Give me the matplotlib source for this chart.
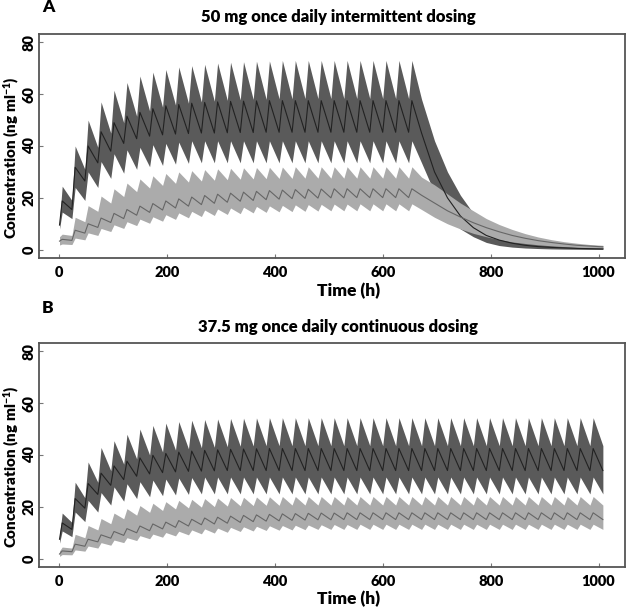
import matplotlib
matplotlib.use("Agg")
import matplotlib.pyplot as plt
import numpy as np

plt.rcParams.update({
    "font.family": ["Lato", "DejaVu Sans"],
    "font.weight": "heavy",
    "axes.labelweight": "heavy",
    "mathtext.fontset": "custom",
    "mathtext.rm": "Lato:heavy",
    "mathtext.bf": "Lato:heavy",
    "mathtext.default": "bf",
})

W, H = 626, 609

# ---------------------------------------------------------------------------
# Data (ng/ml). Dosing every 24 h.
# "pk" = peak of each dosing interval, "tr" = value just before next dose,
# "wo" = washout values every 24 h after the last trough (panel A only)
# ---------------------------------------------------------------------------

# Panel A: 50 mg intermittent (28 doses, then washout to 1008 h)
a_start = {"dk_hi": 11, "dk_md": 9.5, "dk_lo": 8, "lt_hi": 5, "lt_md": 3.3, "lt_lo": 1.8}

a_dk_hi_pk = [24.5, 40, 50, 57, 61.5, 64.5, 67, 68.5, 69.5, 70.5, 71, 71.5, 72, 72.3,
              72.5, 72.7, 72.8, 73, 73, 73, 73, 73, 73, 73, 73, 73, 73, 73]
a_dk_hi_tr = [19, 31, 39.5, 45, 49, 51.5, 53.5, 55, 55.8, 56.5, 57, 57.3, 57.6, 57.8,
              58, 58, 58.2, 58.2, 58.3, 58.3, 58.3, 58.3, 58.3, 58.3, 58.3, 58.3, 58.3, 58]
a_dk_hi_wo = [42, 30, 21, 14, 9.5, 6.5, 4.5, 3.2, 2.4, 1.9, 1.5, 1.2, 1.0, 0.9]

a_dk_md_pk = [18.8, 31.8, 40, 45.5, 49, 51.5, 53, 54.4, 55.5, 56, 56.5, 56.8, 57, 57.2,
              57.3, 57.4, 57.5, 57.5, 57.5, 57.5, 57.5, 57.5, 57.5, 57.5, 57.5, 57.5, 57.5, 57.5]
a_dk_md_tr = [15.5, 26.5, 33.5, 38, 41, 42.8, 43.8, 44.3, 44.6, 44.8, 45, 45, 45.1, 45.2,
              45.2, 45.3, 45.3, 45.3, 45.3, 45.3, 45.3, 45.3, 45.3, 45.3, 45.3, 45.3, 45.3, 45]
a_dk_md_wo = [30, 20, 13, 8.5, 5.5, 3.7, 2.5, 1.7, 1.2, 0.9, 0.7, 0.5, 0.4, 0.3]

a_dk_lo_pk = [14.5, 24, 30, 34, 37, 38.5, 39.5, 40.5, 41, 41.5, 42, 42, 42, 42,
              42, 42, 42, 42, 42, 42, 42, 42, 42, 42, 42, 42, 42, 42]
a_dk_lo_tr = [12, 19, 24, 27.5, 29.5, 31, 32, 32.5, 33, 33.3, 33.5, 33.5, 33.5, 33.5,
              33.5, 33.5, 33.5, 33.5, 33.5, 33.5, 33.5, 33.5, 33.5, 33.5, 33.5, 33.5, 33.5, 33.5]
a_dk_lo_wo = [22, 14, 8, 5, 2.8, 1.6, 1.0, 0.65, 0.45, 0.3, 0.22, 0.16, 0.12, 0.1]

a_lt_hi_pk = [6, 12.5, 17, 20.7, 23.5, 25.7, 27.3, 28.5, 29.4, 30, 30.5, 30.9, 31.2, 31.4,
              31.6, 31.7, 31.8, 31.9, 32, 32, 32, 32, 32, 32, 32, 32, 32, 32]
a_lt_hi_tr = [5.5, 10.8, 14.8, 18, 20.5, 22.4, 23.8, 24.8, 25.6, 26.1, 26.5, 26.8, 27, 27.2,
              27.3, 27.4, 27.5, 27.5, 27.6, 27.6, 27.6, 27.6, 27.6, 27.6, 27.6, 27.6, 27.6, 28]
a_lt_hi_wo = [25, 21.5, 18, 15, 12, 9.7, 7.8, 6.2, 4.9, 3.9, 3.1, 2.5, 2.0, 1.7]

a_lt_md_pk = [4, 7.5, 10, 12.2, 14, 15.5, 16.8, 17.8, 18.8, 19.6, 20.3, 20.9, 21.4, 21.8,
              22.2, 22.5, 22.8, 23, 23.2, 23.3, 23.4, 23.5, 23.5, 23.5, 23.5, 23.5, 23.5, 23.5]
a_lt_md_tr = [3.6, 6.4, 8.6, 10.5, 12, 13.3, 14.4, 15.3, 16.1, 16.8, 17.4, 17.9, 18.3, 18.7,
              19, 19.3, 19.5, 19.7, 19.8, 19.9, 20, 20, 20.1, 20.1, 20.1, 20.1, 20.1, 21]
a_lt_md_wo = [18, 15, 12.6, 10.4, 8.5, 6.9, 5.5, 4.4, 3.5, 2.8, 2.2, 1.7, 1.4, 1.1]

a_lt_lo_pk = [2.2, 4.5, 6.5, 8.2, 9.6, 10.8, 11.8, 12.7, 13.5, 14.2, 14.8, 15.3, 15.7, 16.1,
              16.4, 16.7, 16.9, 17.1, 17.3, 17.4, 17.5, 17.6, 17.6, 17.7, 17.7, 17.7, 17.7, 17.7]
a_lt_lo_tr = [2, 3.8, 5.5, 7, 8.2, 9.3, 10.2, 11, 11.7, 12.3, 12.8, 13.2, 13.6, 13.9,
              14.2, 14.4, 14.6, 14.7, 14.8, 14.9, 15, 15, 15, 15, 15, 15, 15, 15.5]
a_lt_lo_wo = [12.5, 10, 8, 6.3, 5, 3.9, 3, 2.4, 1.9, 1.5, 1.2, 0.9, 0.7, 0.55]

# Panel B: 37.5 mg continuous (42 doses)
b_start = {"dk_hi": 9, "dk_md": 7.5, "dk_lo": 6, "lt_hi": 3, "lt_md": 1.8, "lt_lo": 0.9}

b_dk_hi_pk = [17.6, 29.5, 37.3, 42.9, 45.5, 48, 50, 51.4, 52.3, 52.9, 53.4, 53.7, 53.9, 54.1,
              54.2, 54.3, 54.4, 54.4, 54.4, 54.4, 54.4, 54.4, 54.4, 54.4, 54.4, 54.4, 54.4, 54.4,
              54.4, 54.4, 54.4, 54.4, 54.4, 54.4, 54.4, 54.4, 54.4, 54.4, 54.4, 54.4, 54.4, 54.4]
b_dk_hi_tr = [14, 23.5, 29.5, 34, 36.5, 38.5, 40, 41.2, 41.9, 42.4, 42.8, 43, 43.2, 43.4,
              43.5, 43.6, 43.6, 43.6, 43.6, 43.6, 43.6, 43.6, 43.6, 43.6, 43.6, 43.6, 43.6, 43.6,
              43.6, 43.6, 43.6, 43.6, 43.6, 43.6, 43.6, 43.6, 43.6, 43.6, 43.6, 43.6, 43.6, 43.6]

b_dk_md_pk = [13.8, 23.2, 29, 33, 35.8, 37.6, 38.9, 39.9, 40.6, 41.1, 41.5, 41.8, 42, 42.2,
              42.3, 42.4, 42.5, 42.5, 42.5, 42.5, 42.5, 42.5, 42.5, 42.5, 42.5, 42.5, 42.5, 42.5,
              42.5, 42.5, 42.5, 42.5, 42.5, 42.5, 42.5, 42.5, 42.5, 42.5, 42.5, 42.5, 42.5, 42.5]
b_dk_md_tr = [11.3, 19.5, 24.8, 28.3, 30.5, 31.8, 32.7, 33.2, 33.5, 33.7, 33.8, 33.9, 34, 34,
              34, 34, 34, 34, 34, 34, 34, 34, 34, 34, 34, 34, 34, 34,
              34, 34, 34, 34, 34, 34, 34, 34, 34, 34, 34, 34, 34, 34]

b_dk_lo_pk = [10.7, 18, 22.5, 25.5, 27.7, 28.9, 29.7, 30.3, 30.7, 31.1, 31.3, 31.5, 31.5, 31.5,
              31.5, 31.5, 31.5, 31.5, 31.5, 31.5, 31.5, 31.5, 31.5, 31.5, 31.5, 31.5, 31.5, 31.5,
              31.5, 31.5, 31.5, 31.5, 31.5, 31.5, 31.5, 31.5, 31.5, 31.5, 31.5, 31.5, 31.5, 31.5]
b_dk_lo_tr = [8.5, 14.3, 18, 20.7, 22.2, 23.2, 23.9, 24.3, 24.6, 24.8, 25, 25, 25, 25,
              25, 25, 25, 25, 25, 25, 25, 25, 25, 25, 25, 25, 25, 25,
              25, 25, 25, 25, 25, 25, 25, 25, 25, 25, 25, 25, 25, 25]

b_lt_hi_pk = [4.5, 9.4, 12.8, 15.5, 17.6, 19.3, 20.5, 21.4, 22, 22.5, 22.9, 23.2, 23.4, 23.6,
              23.7, 23.8, 23.9, 24, 24, 24, 24, 24, 24, 24, 24, 24, 24, 24,
              24, 24, 24, 24, 24, 24, 24, 24, 24, 24, 24, 24, 24, 24]
b_lt_hi_tr = [4.1, 8.1, 11.1, 13.5, 15.4, 16.8, 17.9, 18.6, 19.2, 19.6, 19.9, 20.1, 20.3, 20.4,
              20.5, 20.6, 20.6, 20.7, 20.7, 20.7, 20.7, 20.7, 20.7, 20.7, 20.7, 20.7, 20.7, 20.7,
              20.7, 20.7, 20.7, 20.7, 20.7, 20.7, 20.7, 20.7, 20.7, 20.7, 20.7, 20.7, 20.7, 20.7]

b_lt_md_pk = [3, 5.6, 7.5, 9.2, 10.5, 11.6, 12.6, 13.4, 14.1, 14.7, 15.2, 15.7, 16, 16.4,
              16.7, 16.9, 17.1, 17.3, 17.4, 17.5, 17.6, 17.6, 17.7, 17.7, 17.7, 17.7, 17.7, 17.7,
              17.7, 17.7, 17.7, 17.7, 17.7, 17.7, 17.7, 17.7, 17.7, 17.7, 17.7, 17.7, 17.7, 17.7]
b_lt_md_tr = [2.7, 4.8, 6.5, 7.9, 9, 10, 10.8, 11.5, 12.1, 12.6, 13.1, 13.4, 13.7, 14,
              14.3, 14.5, 14.6, 14.8, 14.9, 15, 15, 15.1, 15.1, 15.1, 15.1, 15.1, 15.1, 15.1,
              15.1, 15.1, 15.1, 15.1, 15.1, 15.1, 15.1, 15.1, 15.1, 15.1, 15.1, 15.1, 15.1, 15.1]

b_lt_lo_pk = [1.6, 3.4, 4.9, 6.2, 7.2, 8.1, 8.9, 9.5, 10.1, 10.6, 11.1, 11.5, 11.8, 12.1,
              12.3, 12.5, 12.7, 12.8, 12.9, 13, 13.1, 13.2, 13.2, 13.3, 13.3, 13.3, 13.3, 13.3,
              13.3, 13.3, 13.3, 13.3, 13.3, 13.3, 13.3, 13.3, 13.3, 13.3, 13.3, 13.3, 13.3, 13.3]
b_lt_lo_tr = [1.5, 2.9, 4.1, 5.2, 6.2, 7, 7.7, 8.3, 8.8, 9.2, 9.6, 9.9, 10.2, 10.5,
              10.7, 10.9, 11, 11.1, 11.2, 11.3, 11.3, 11.3, 11.3, 11.3, 11.3, 11.3, 11.3, 11.3,
              11.3, 11.3, 11.3, 11.3, 11.3, 11.3, 11.3, 11.3, 11.3, 11.3, 11.3, 11.3, 11.3, 11.3]

TAU = 24        # dosing interval (h)
T_PEAK = 6      # time of peak after each dose (h)

DARK_BAND = "#5a5a5a"
DARK_LINE = "#222222"
LIGHT_BAND = "#ababab"
LIGHT_LINE = "#666666"
SPINE = "#555555"


def build(start, pk, tr, wo=()):
    """Interleave start, peaks, troughs and washout into a (t, c) profile."""
    n = len(pk)
    t = [1.0]
    c = [start]
    for i in range(n):
        t += [i * TAU + T_PEAK, (i + 1) * TAU]
        c += [pk[i], tr[i]]
    for j, v in enumerate(wo):
        t.append((n + 1 + j) * TAU)
        c.append(v)
    return np.array(t), np.array(c)


def draw_panel(ax, st, dk, lt):
    t, dk_hi = build(st["dk_hi"], *dk[0])
    _, dk_md = build(st["dk_md"], *dk[1])
    _, dk_lo = build(st["dk_lo"], *dk[2])
    _, lt_hi = build(st["lt_hi"], *lt[0])
    _, lt_md = build(st["lt_md"], *lt[1])
    _, lt_lo = build(st["lt_lo"], *lt[2])

    ax.fill_between(t, dk_lo, dk_hi, color=DARK_BAND, lw=0)
    ax.plot(t, dk_md, color=DARK_LINE, lw=0.8)
    ax.fill_between(t, lt_lo, lt_hi, color=LIGHT_BAND, lw=0)
    ax.plot(t, lt_md, color=LIGHT_LINE, lw=0.8)

    ax.set_xlim(-37, 1049)
    ax.set_ylim(-3.2, 83.2)
    ax.set_xticks([0, 200, 400, 600, 800, 1000])
    ax.set_yticks([0, 20, 40, 60, 80])
    ax.tick_params(direction="in", length=3, width=0.8, color="#777777",
                   labelsize=10.5, pad=2.5)
    ax.tick_params(axis="x", pad=6)
    for lab in ax.get_yticklabels():
        lab.set_rotation(90)
        lab.set_va("center")
    for s in ax.spines.values():
        s.set_color(SPINE)
        s.set_linewidth(1.3)
    ax.set_ylabel("Concentration (ng ml$^{-1}$)", fontsize=11, va="center",
                  fontweight="heavy")
    ax.yaxis.set_label_coords(-0.048, 0.45)


fig = plt.figure(figsize=(W / 100, H / 100), dpi=100)


def px_axes(left, top, right, bottom):
    return fig.add_axes([left / W, 1 - bottom / H, (right - left) / W, (bottom - top) / H])


axA = px_axes(39, 34, 625, 258)
draw_panel(axA, a_start,
           [(a_dk_hi_pk, a_dk_hi_tr, a_dk_hi_wo),
            (a_dk_md_pk, a_dk_md_tr, a_dk_md_wo),
            (a_dk_lo_pk, a_dk_lo_tr, a_dk_lo_wo)],
           [(a_lt_hi_pk, a_lt_hi_tr, a_lt_hi_wo),
            (a_lt_md_pk, a_lt_md_tr, a_lt_md_wo),
            (a_lt_lo_pk, a_lt_lo_tr, a_lt_lo_wo)])

axB = px_axes(39, 343, 625, 567)
draw_panel(axB, b_start,
           [(b_dk_hi_pk, b_dk_hi_tr), (b_dk_md_pk, b_dk_md_tr), (b_dk_lo_pk, b_dk_lo_tr)],
           [(b_lt_hi_pk, b_lt_hi_tr), (b_lt_md_pk, b_lt_md_tr), (b_lt_lo_pk, b_lt_lo_tr)])


def ftext(x, y, s, size, **kw):
    fig.text(x / W, 1 - y / H, s, fontsize=size,
             ha=kw.pop("ha", "center"), va=kw.pop("va", "center"), **kw)


ftext(42, 7, "A", 12.5, ha="left")
ftext(338, 17, "50 mg once daily intermittent dosing", 12)
ftext(349, 291, "Time (h)", 12.5)

ftext(42, 308, "B", 12.5, ha="left")
ftext(338, 327, "37.5 mg once daily continuous dosing", 12)
ftext(349, 599, "Time (h)", 12.5)

fig.savefig("out.png", dpi=100)
